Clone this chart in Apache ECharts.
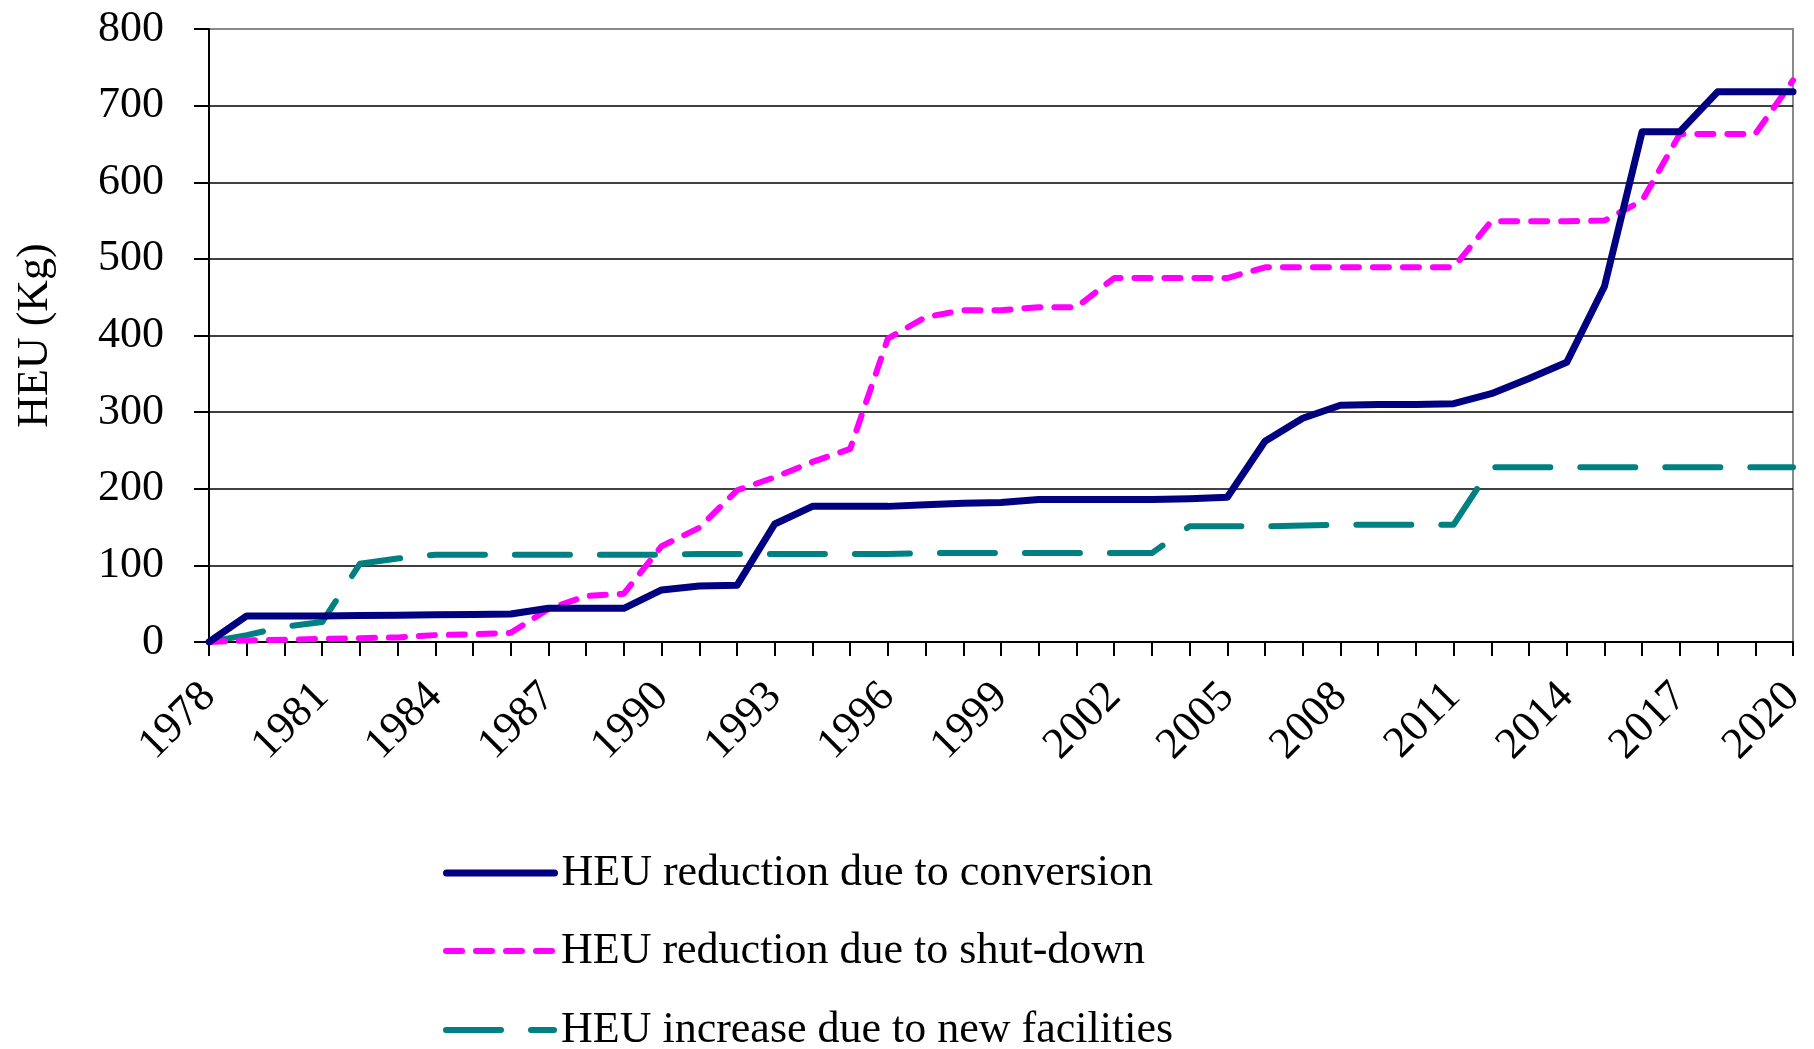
<!DOCTYPE html>
<html>
<head>
<meta charset="utf-8">
<script src="https://cdn.jsdelivr.net/npm/echarts@6/dist/echarts.min.js"></script>
<style>
html,body{margin:0;padding:0;background:#fff;}
#chart{width:1814px;height:1049px;}
</style>
</head>
<body>
<div id="chart"></div>
<script>
const years = ['1978','1979','1980','1981','1982','1983','1984','1985','1986','1987','1988','1989','1990','1991','1992','1993','1994','1995','1996','1997','1998','1999','2000','2001','2002','2003','2004','2005','2006','2007','2008','2009','2010','2011','2012','2013','2014','2015','2016','2017','2018','2019','2020'];

const conversion = [0,34,34,34,34.5,35,35.5,36,36.5,44,44,44,68,73,74,154,177,177,177,179,181,182,186,186,186,186,187,189,262,292,309,310,310,311,324,344,365,464,666,666,718,718,718];

const shutdown = [0,2,3,4,5,6,9,10,12,43,60,63,125,149,198,215,235,252,396,424,433,433,437,437,475,475,475,475,489,489,489,489,489,489,549,549,549,550,576,663,663,663,733];

const newFacilities = [0,9,20,26,102,109,114,114,114,114,114,114,114,115,115,115,115,115,115,116,116,116,116,116,116,116,151,151,151,152,153,153,153,153,228,228,228,228,228,228,228,228,228];

const seriesNames = ['HEU reduction due to conversion','HEU reduction due to shut-down','HEU increase due to new facilities'];
const yTitle = 'HEU (Kg)';

const FONT = "'Liberation Serif','Times New Roman',serif";
const legendTops = [846, 924, 1003];
const legends = seriesNames.map((n, i) => ({
  orient: 'horizontal', left: 438, top: legendTops[i],
  itemWidth: 108, itemHeight: 12,
  data: [n],
  itemStyle: { opacity: 0 },
  lineStyle: { width: 'inherit', type: 'inherit' },
  textStyle: { fontFamily: FONT, fontSize: 44, lineHeight: 30, color: '#000', padding: [0,0,0,2] }
}));

const chart = echarts.init(document.getElementById('chart'));
chart.setOption({
  animation: false,
  backgroundColor: '#fff',
  grid: { left: 209, right: 21, top: 29, bottom: 407, show: true, borderColor: '#8a8a8a', borderWidth: 2 },
  legend: legends,
  xAxis: {
    type: 'category', data: years, boundaryGap: false,
    axisLine: { lineStyle: { color: '#000', width: 2 } },
    axisTick: { show: true, interval: 0, length: 14, lineStyle: { color: '#000', width: 2 } },
    axisLabel: { interval: 2, rotate: 45, margin: 48, fontFamily: FONT, fontSize: 44, color: '#000' },
    splitLine: { show: false }
  },
  yAxis: {
    type: 'value', min: 0, max: 800, interval: 100,
    name: yTitle, nameLocation: 'middle', nameRotate: 90, nameGap: 152,
    nameTextStyle: { fontFamily: FONT, fontSize: 44, color: '#000' },
    axisLine: { show: true, lineStyle: { color: '#000', width: 2 } },
    axisTick: { show: true, length: 15, lineStyle: { color: '#000', width: 2 } },
    axisLabel: { margin: 45, fontFamily: FONT, fontSize: 44, color: '#000' },
    splitLine: { show: true, lineStyle: { color: ['#000','#000','#000','#000','#000','#000','#000','#000','#8a8a8a'], width: 1.5 } }
  },
  series: [
    { name: seriesNames[0], type: 'line', data: conversion, symbol: 'none', z: 5,
      lineStyle: { color: '#000080', width: 7, type: 'solid', cap: 'round', join: 'round' },
      itemStyle: { color: '#000080' } },
    { name: seriesNames[1], type: 'line', data: shutdown, symbol: 'none', z: 4,
      lineStyle: { color: '#ff00ff', width: 6, type: [16, 14], cap: 'round', join: 'round' },
      itemStyle: { color: '#ff00ff' } },
    { name: seriesNames[2], type: 'line', data: newFacilities, symbol: 'none', z: 3,
      lineStyle: { color: '#008080', width: 6, type: [55, 30], cap: 'round', join: 'round' },
      itemStyle: { color: '#008080' } }
  ]
});
</script>
</body>
</html>
